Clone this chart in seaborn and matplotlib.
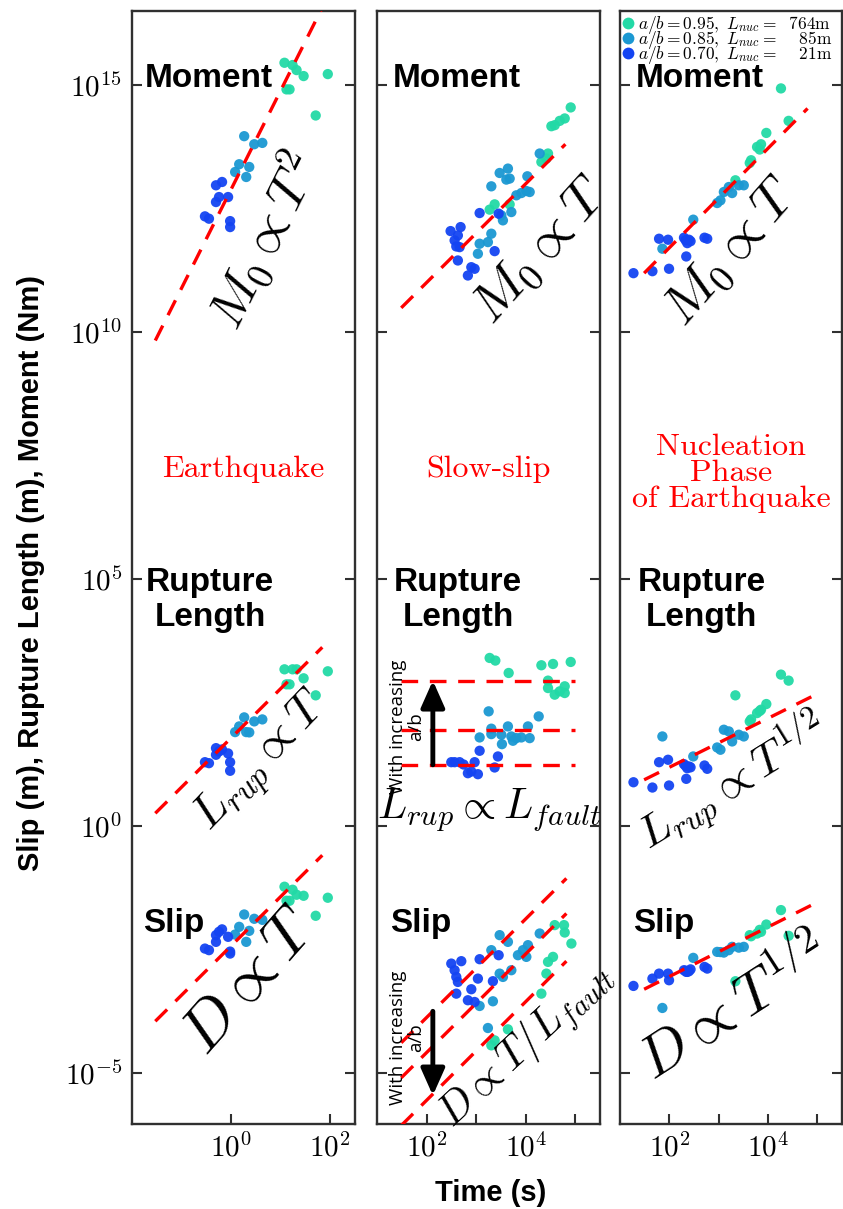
import numpy as np
import pandas as pd
import matplotlib
matplotlib.use("Agg")
import matplotlib.pyplot as plt
import seaborn as sns
from matplotlib.lines import Line2D
from matplotlib.ticker import NullLocator, FixedLocator, FixedFormatter

sns.set_style("ticks")
plt.rcParams['font.family'] = ['Liberation Sans', 'DejaVu Sans']
plt.rcParams['mathtext.fontset'] = 'cm'
plt.rcParams['text.color'] = 'black'
plt.rcParams['axes.labelcolor'] = 'black'
plt.rcParams['xtick.labelcolor'] = 'black'
plt.rcParams['ytick.labelcolor'] = 'black'

# ---------------- data (log10 values) ----------------
GROUPS = ['0.95', '0.85', '0.70']
COLORS = {'0.95': '#22D9A6', '0.85': '#1B98D2', '0.70': '#1444F2'}
LEGEND_LABELS = [r'$a/b=0.95,\ L_{nuc}=\ \ \mathrm{764m}$',
                 r'$a/b=0.85,\ L_{nuc}=\ \ \ \ \mathrm{85m}$',
                 r'$a/b=0.70,\ L_{nuc}=\ \ \ \ \mathrm{21m}$']

# Panel 1: Earthquake (log10 T [s], log10 M0 [Nm], log10 Lrup [m], log10 D [m])
eq_logT_095 = [1.077, 1.118, 1.179, 1.240, 1.321, 1.463, 1.707, 1.951]
eq_logM_095 = [15.452, 14.913, 14.913, 15.406, 15.304, 15.183, 14.385, 15.223]
eq_logL_095 = [3.174, 2.870, 2.870, 3.174, 3.174, 2.992, 2.647, 3.134]
eq_logD_095 = [-1.227, -1.511, -1.511, -1.288, -1.389, -1.410, -1.815, -1.450]

eq_logT_085 = [0.081, 0.163, 0.264, 0.305, 0.366, 0.467, 0.630]
eq_logM_085 = [13.241, 13.398, 13.966, 13.140, 13.343, 13.803, 13.830]
eq_logL_085 = [1.903, 2.018, 2.201, 1.903, 1.897, 2.120, 2.160]
eq_logD_085 = [-2.195, -2.039, -1.789, -2.343, -2.120, -1.876, -1.897]

eq_logT_070 = [-0.528, -0.447, -0.305, -0.305, -0.244, -0.183, -0.061, -0.020, -0.020]
eq_logM_070 = [12.343, 12.296, 12.972, 12.633, 12.734, 13.039, 12.734, 12.247, 12.126]
eq_logL_070 = [1.294, 1.274, 1.578, 1.444, 1.511, 1.552, 1.471, 1.294, 1.120]
eq_logD_070 = [-2.479, -2.511, -2.207, -2.343, -2.140, -2.090, -2.241, -2.580, -2.540]

eq_fit_logT = [-1.53, 1.84]
eq_fit_logM = [9.83, 16.57]
eq_fit_logL = [0.26, 3.62]
eq_fit_logD = [-3.95, -0.59]

# Panel 2: Slow-slip
ss_mom_logT_095 = [4.909, 4.788, 4.687, 4.586, 4.519, 4.451, 4.317, 4.418, 3.374, 3.273, 3.677]
ss_mom_logM_095 = [14.548, 14.325, 14.276, 14.189, 14.168, 13.615, 13.444, 13.513, 12.586, 12.479, 12.586]
ss_mom_logT_085 = [4.283, 3.642, 3.475, 3.610, 3.677, 3.307, 4.034, 4.014, 3.913, 3.812, 4.081,
                   3.711, 3.509, 3.541, 3.307, 3.238, 3.071, 3.036]
ss_mom_logM_085 = [13.615, 13.310, 13.221, 13.087, 13.108, 12.951, 13.154, 12.856, 12.815, 12.769, 12.836,
                   12.430, 12.363, 12.262, 11.992, 11.822, 11.789, 11.586]
ss_mom_logT_070 = [2.687, 2.485, 2.632, 2.566, 2.600, 2.667, 3.071, 3.455, 2.632, 2.903, 2.834, 2.970, 3.374]
ss_mom_logM_070 = [12.126, 12.045, 11.957, 11.856, 11.734, 11.720, 12.410, 12.398, 11.450, 11.314, 11.146,
                   11.282, 11.639]

ss_rup_logT_095 = [3.273, 3.388, 3.657, 4.317, 4.552, 4.909, 4.451, 4.451, 4.586, 4.687, 4.788, 4.788]
ss_rup_logL_095 = [3.404, 3.351, 3.100, 3.256, 3.282, 3.323, 2.945, 2.795, 2.661, 2.728, 2.830, 2.694]
ss_rup_logT_085 = [3.253, 4.263, 3.307, 3.307, 3.071, 3.509, 3.642, 3.711, 3.812, 3.913, 4.046, 4.081,
                   3.743, 3.521]
ss_rup_logL_085 = [2.323, 2.221, 1.972, 1.862, 1.795, 1.850, 2.018, 1.815, 1.781, 1.795, 2.018, 1.781,
                   1.728, 1.659]
ss_rup_logT_070 = [2.499, 2.566, 2.667, 2.747, 2.970, 3.071, 3.440, 3.374, 2.834, 3.036, 2.903]
ss_rup_logL_070 = [1.294, 1.294, 1.294, 1.247, 1.294, 1.525, 1.410, 1.187, 1.071, 1.051, 1.105]

ss_slip_logT_095 = [4.586, 4.774, 4.788, 4.923, 4.552, 4.451, 4.418, 4.317, 3.307, 3.374, 3.642]
ss_slip_logD_095 = [-2.004, -2.004, -2.154, -2.377, -2.647, -2.748, -2.986, -3.391, -4.438, -4.337, -4.114]
ss_slip_logT_085 = [3.475, 3.642, 4.283, 4.046, 3.945, 4.014, 3.844, 3.307, 3.475, 3.711, 3.541, 3.339,
                    3.071, 3.238]
ss_slip_logD_085 = [-2.207, -2.343, -2.174, -2.410, -2.511, -2.647, -2.613, -2.511, -2.986, -2.917, -3.053,
                    -3.546, -3.641, -4.087]
ss_slip_logT_070 = [2.499, 2.701, 2.566, 2.600, 2.632, 3.071, 3.455, 3.036, 3.339, 2.600, 2.903, 2.834, 2.970]
ss_slip_logD_070 = [-2.783, -2.734, -2.917, -3.053, -3.154, -2.694, -2.613, -3.087, -3.140, -3.391, -3.302,
                    -3.525, -3.560]

ss_fit_mom_logT = [1.489, 4.802]
ss_fit_mom_logM = [10.491, 13.803]
ss_fit_rup_logT = [1.489, 4.99]
ss_fit_rup_levels = [2.945, 1.951, 1.241]
ss_fit_slip_logT = [1.489, 4.822]
ss_fit_slip_logD = [[-4.385, -1.059], [-5.095, -1.769], [-6.061, -2.734]]
ss_arrow_logT = 2.127
ss_arrow_rup = [1.241, 2.945]
ss_arrow_slip = [-3.749, -5.452]

# Panel 3: Nucleation phase
nu_logT_095 = [4.263, 4.418, 3.966, 3.859, 3.778, 3.832, 3.630, 3.657, 3.339]
nu_logM_095 = [14.933, 14.276, 14.032, 13.803, 13.748, 13.696, 13.424, 13.479, 13.073]
nu_logL_095 = [3.067, 2.945, 2.471, 2.357, 2.288, 2.330, 2.120, 2.160, 2.647]
nu_logD_095 = [-1.700, -2.221, -1.992, -2.140, -2.175, -2.100, -2.207, -2.230, -3.140]

nu_logT_085 = [3.509, 3.408, 3.206, 3.105, 3.273, 3.036, 2.970, 2.485, 1.859]
nu_logM_085 = [12.972, 12.972, 12.937, 12.836, 12.815, 12.667, 12.613, 12.276, 11.688]
nu_logL_085 = [1.815, 1.850, 1.917, 1.951, 1.714, 1.546, 1.592, 1.410, 1.815]
nu_logD_085 = [-2.444, -2.460, -2.511, -2.560, -2.444, -2.550, -2.546, -2.667, -3.681]

nu_logT_070 = [1.792, 1.974, 2.297, 2.398, 2.364, 2.713, 2.768, 2.343, 1.273, 1.657, 1.994, 2.330, 2.430]
nu_logM_070 = [11.890, 11.870, 11.911, 11.870, 11.801, 11.911, 11.890, 11.531, 11.193, 11.233, 11.282,
               11.860, 11.840]
nu_logL_070 = [1.294, 1.343, 1.254, 1.207, 1.172, 1.227, 1.160, 0.957, 0.888, 0.781, 0.822, 1.220, 1.190]
nu_logD_070 = [-2.986, -2.986, -2.917, -2.937, -2.951, -2.850, -2.884, -2.950, -3.235, -3.087, -3.120,
               -2.930, -2.900]

nu_fit_mom_logT = [1.489, 4.802]
nu_fit_mom_logM = [11.193, 14.527]
nu_fit_half_logT = [1.489, 4.99]
nu_fit_logL = [0.937, 2.673]
nu_fit_logD = [-3.302, -1.546]

Y_TICK_EXP = [-5, 0, 5, 10, 15]

# ---------------- figure ----------------
fig = plt.figure(figsize=(8.43, 12.09), dpi=100)
W, H = 843.0, 1209.0
ax_bottom, ax_top = 1124.0, 11.0
axes = []
for left, width in [(132, 223), (377, 223), (620, 222)]:
    axes.append(fig.add_axes([left / W, (H - ax_bottom) / H, width / W, (ax_bottom - ax_top) / H]))
ax1, ax2, ax3 = axes

SPINE = '#303030'
DASH = (0, (5.0, 3.5))


def draw_points(ax, series):
    frames = []
    for grp, logt, logv in series:
        frames.append(pd.DataFrame({'T': np.power(10.0, np.array(logt)),
                                    'V': np.power(10.0, np.array(logv)),
                                    'ab': grp}))
    df = pd.concat(frames, ignore_index=True)
    sns.scatterplot(data=df, x='T', y='V', hue='ab', hue_order=GROUPS, palette=COLORS,
                    s=55, linewidth=0, alpha=0.95, legend=False, ax=ax, zorder=2)


def draw_fit(ax, logt, logv):
    ax.plot(np.power(10.0, np.array(logt)), np.power(10.0, np.array(logv)),
            color='red', lw=2.4, linestyle=DASH, zorder=3, dash_capstyle='butt')


for ax in axes:
    ax.set_xscale('log')
    ax.set_yscale('log')
    ax.set_ylim(10 ** -6.03, 10 ** 16.5)

ax1.set_xlim(10 ** -2, 10 ** 2.5)
ax2.set_xlim(10 ** 1, 10 ** 5.5)
ax3.set_xlim(10 ** 1, 10 ** 5.5)

# Panel 1
draw_points(ax1, [('0.95', eq_logT_095, eq_logM_095), ('0.85', eq_logT_085, eq_logM_085),
                  ('0.70', eq_logT_070, eq_logM_070),
                  ('0.95', eq_logT_095, eq_logL_095), ('0.85', eq_logT_085, eq_logL_085),
                  ('0.70', eq_logT_070, eq_logL_070),
                  ('0.95', eq_logT_095, eq_logD_095), ('0.85', eq_logT_085, eq_logD_085),
                  ('0.70', eq_logT_070, eq_logD_070)])
draw_fit(ax1, eq_fit_logT, eq_fit_logM)
draw_fit(ax1, eq_fit_logT, eq_fit_logL)
draw_fit(ax1, eq_fit_logT, eq_fit_logD)

# Panel 2
draw_points(ax2, [('0.95', ss_mom_logT_095, ss_mom_logM_095), ('0.85', ss_mom_logT_085, ss_mom_logM_085),
                  ('0.70', ss_mom_logT_070, ss_mom_logM_070),
                  ('0.95', ss_rup_logT_095, ss_rup_logL_095), ('0.85', ss_rup_logT_085, ss_rup_logL_085),
                  ('0.70', ss_rup_logT_070, ss_rup_logL_070),
                  ('0.95', ss_slip_logT_095, ss_slip_logD_095), ('0.85', ss_slip_logT_085, ss_slip_logD_085),
                  ('0.70', ss_slip_logT_070, ss_slip_logD_070)])
draw_fit(ax2, ss_fit_mom_logT, ss_fit_mom_logM)
for lvl in ss_fit_rup_levels:
    draw_fit(ax2, ss_fit_rup_logT, [lvl, lvl])
for seg in ss_fit_slip_logD:
    draw_fit(ax2, ss_fit_slip_logT, seg)

arrow_kw = dict(arrowstyle='-|>,head_length=0.9,head_width=0.4', lw=3.5, color='black',
                shrinkA=0, shrinkB=0, mutation_scale=18)
ax2.annotate('', xy=(10 ** ss_arrow_logT, 10 ** ss_arrow_rup[1]),
             xytext=(10 ** ss_arrow_logT, 10 ** ss_arrow_rup[0]), arrowprops=arrow_kw, zorder=4)
ax2.annotate('', xy=(10 ** ss_arrow_logT, 10 ** ss_arrow_slip[1]),
             xytext=(10 ** ss_arrow_logT, 10 ** ss_arrow_slip[0]), arrowprops=arrow_kw, zorder=4)
for fy in [(1124 - 727) / 1113, (1124 - 1038) / 1113]:
    ax2.text(0.135, fy, 'With increasing\na/b', rotation=90, ha='center', va='center',
             multialignment='center', fontsize=13.5, family=['Open Sans', 'DejaVu Sans'],
             linespacing=0.95, transform=ax2.transAxes)

# Panel 3
draw_points(ax3, [('0.95', nu_logT_095, nu_logM_095), ('0.85', nu_logT_085, nu_logM_085),
                  ('0.70', nu_logT_070, nu_logM_070),
                  ('0.95', nu_logT_095, nu_logL_095), ('0.85', nu_logT_085, nu_logL_085),
                  ('0.70', nu_logT_070, nu_logL_070),
                  ('0.95', nu_logT_095, nu_logD_095), ('0.85', nu_logT_085, nu_logD_085),
                  ('0.70', nu_logT_070, nu_logD_070)])
draw_fit(ax3, nu_fit_mom_logT, nu_fit_mom_logM)
draw_fit(ax3, nu_fit_half_logT, nu_fit_logL)
draw_fit(ax3, nu_fit_half_logT, nu_fit_logD)

# ---------------- axes styling ----------------
for i, ax in enumerate(axes):
    for sp in ax.spines.values():
        sp.set_color(SPINE)
        sp.set_linewidth(1.7)
        sp.set_visible(True)
    ax.yaxis.set_major_locator(FixedLocator([10.0 ** e for e in Y_TICK_EXP]))
    ax.yaxis.set_minor_locator(NullLocator())
    ax.xaxis.set_minor_locator(NullLocator())
    ax.tick_params(axis='both', which='major', direction='in', length=7, width=1.5,
                   color=SPINE, labelcolor='black', labelsize=21, pad=7)
    ax.tick_params(axis='y', left=True, right=True)
    ax.tick_params(axis='x', top=False, bottom=True)
    if i == 0:
        ax.yaxis.set_major_formatter(FixedFormatter([r'$10^{%d}$' % e for e in Y_TICK_EXP]))
    else:
        ax.yaxis.set_major_formatter(FixedFormatter([''] * len(Y_TICK_EXP)))
    ax.set_xlabel('')
    ax.set_ylabel('')

ax1.xaxis.set_major_locator(FixedLocator([1.0, 100.0]))
ax1.xaxis.set_major_formatter(FixedFormatter([r'$10^{0}$', r'$10^{2}$']))
for ax in (ax2, ax3):
    ax.xaxis.set_major_locator(FixedLocator([1e2, 1e3, 1e4, 1e5]))
    ax.xaxis.set_major_formatter(FixedFormatter([r'$10^{2}$', '', r'$10^{4}$', '']))

# ---------------- annotations ----------------
bold = dict(fontsize=24, fontweight='bold', color='black')
for ax, fx_m, fx_r, fx_s in [(ax1, 0.058, 0.35, 0.049), (ax2, 0.072, 0.363, 0.058), (ax3, 0.072, 0.369, 0.059)]:
    ax.text(fx_m, 0.939, 'Moment', ha='left', va='center', transform=ax.transAxes, **bold)
    ax.text(fx_r, 0.471, 'Rupture\nLength', ha='center', va='center', multialignment='center',
            linespacing=1.15, transform=ax.transAxes, **bold)
    ax.text(fx_s, 0.180, 'Slip', ha='left', va='center', transform=ax.transAxes, **bold)

red = dict(color='red', fontsize=23, family='cmr10', ha='center', va='center')
ax1.text(0.5, 0.588, 'Earthquake', transform=ax1.transAxes, **red)
ax2.text(0.5, 0.588, 'Slow-slip', transform=ax2.transAxes, **red)
ax3.text(0.5, 0.585, 'Nucleation\nPhase\nof Earthquake', transform=ax3.transAxes,
         multialignment='center', linespacing=0.93, **red)

math_texts = [
    (ax1, 0.587, 0.794, 63.4, 38, r'$M_0 \propto T^2$'),
    (ax1, 0.587, 0.325, 46.5, 34, r'$L_{rup} \propto T$'),
    (ax1, 0.529, 0.128, 48.6, 46, r'$D \propto T$'),
    (ax2, 0.731, 0.785, 48.0, 39, r'$M_0 \propto T$'),
    (ax2, 0.502, 0.282, 0.0, 31, r'$L_{rup} \propto L_{fault}$'),
    (ax2, 0.673, 0.070, 43.0, 30, r'$D \propto T/L_{fault}$'),
    (ax3, 0.500, 0.783, 49.0, 39, r'$M_0 \propto T$'),
    (ax3, 0.508, 0.307, 31.7, 33, r'$L_{rup} \propto T^{1/2}$'),
    (ax3, 0.515, 0.104, 32.9, 42, r'$D \propto T^{1/2}$'),
]
for ax, fx, fy, rot, fs, s in math_texts:
    ax.text(fx, fy, s, rotation=rot, rotation_mode='anchor', ha='center', va='center',
            fontsize=fs, transform=ax.transAxes, zorder=5)

# legend
handles = [Line2D([0], [0], marker='o', linestyle='none', markersize=8.5, markeredgewidth=0,
                  color=COLORS[g]) for g in GROUPS]
ax3.legend(handles, LEGEND_LABELS, loc='upper left', bbox_to_anchor=(-0.015, 1.0), frameon=False,
           fontsize=12.5, handletextpad=0.1, labelspacing=-0.38, borderaxespad=0.0,
           handlelength=1.0, borderpad=0.15)

fig.text(31 / W, 1 - 573 / H, 'Slip (m), Rupture Length (m), Moment (Nm)', rotation=90,
         ha='center', va='center', fontsize=21, fontweight='bold')
fig.text(491 / W, 1 - 1193 / H, 'Time (s)', ha='center', va='center', fontsize=21, fontweight='bold')

fig.savefig('out.png', dpi=100)
